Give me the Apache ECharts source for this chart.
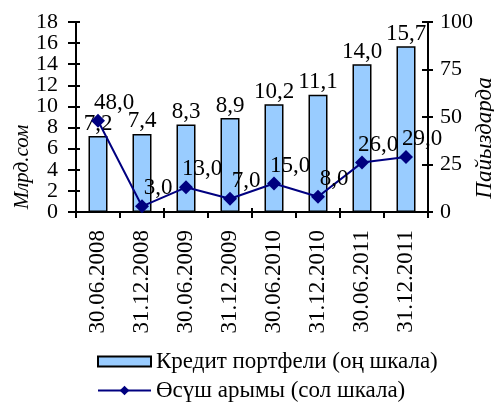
<!DOCTYPE html>
<html>
<head>
<meta charset="utf-8">
<script src="https://cdn.jsdelivr.net/npm/echarts@6/dist/echarts.min.js"></script>
<style>html,body{margin:0;padding:0;background:#fff}#c{width:494px;height:402px}</style>
</head>
<body>
<div id="c"></div>
<script>
var categories = ['30.06.2008','31.12.2008','30.06.2009','31.12.2009','30.06.2010','31.12.2010','30.06.2011','31.12.2011'];
var creditPortfolio = [7.2, 7.4, 8.3, 8.9, 10.2, 11.1, 14.0, 15.7];
var growthRate = [48.0, 3.0, 13.0, 7.0, 15.0, 8.0, 26.0, 29.0];
var barName = 'Кредит портфели (оң шкала)';
var lineName = 'Өсүш арымы (сол шкала)';
var leftAxisName = 'Млрд.сом';
var rightAxisName = 'Пайыздарда';

var FONT = '"Liberation Serif", "Times New Roman", serif';
var FS = 23;
var fmt = function (v) { return v.toFixed(1).replace('.', ','); };
var chart = echarts.init(document.getElementById('c'), null, {renderer: 'canvas'});
var lineStyle = {color: '#000', width: 2};
var legendText = {fontFamily: FONT, fontSize: FS, color: '#000'};
var valueLabel = function (margin, formatter) {
  var o = {margin: margin, fontSize: 22, color: '#000', fontFamily: FONT,
    showMinLabel: true, showMaxLabel: true, hideOverlap: false};
  if (formatter) o.formatter = formatter;
  return o;
};
chart.setOption({
  animation: false,
  grid: {left: 76, right: 66, top: 22, bottom: 190},
  textStyle: {fontFamily: FONT},
  legend: [{
    left: 92, top: 345, itemWidth: 53, itemHeight: 10, itemGap: 0,
    textStyle: legendText, data: [{name: barName, icon: 'rect'}]
  }, {
    left: 92, top: 374, itemWidth: 53, itemHeight: 12, itemGap: 0,
    lineStyle: {width: 2, color: '#000080'},
    textStyle: legendText, data: [{name: lineName}]
  }],
  xAxis: [{
    type: 'category', data: categories, boundaryGap: true,
    axisLine: {lineStyle: lineStyle},
    axisTick: {show: true, length: 6, lineStyle: lineStyle},
    axisLabel: {rotate: 90, margin: 18, fontSize: FS, color: '#000', fontFamily: FONT, interval: 0}
  }, {
    type: 'category', data: categories, position: 'bottom', boundaryGap: true,
    axisLine: {show: false},
    axisTick: {show: true, inside: true, length: 4, lineStyle: lineStyle},
    axisLabel: {show: false}
  }],
  yAxis: [{
    type: 'value', min: 0, max: 18, interval: 2, position: 'left',
    axisLine: {show: true, lineStyle: lineStyle},
    axisTick: {show: true, length: 8, lineStyle: lineStyle},
    splitLine: {show: false},
    axisLabel: valueLabel(18, function (v) { return v % 4 === 0 ? String(v) : ''; })
  }, {
    type: 'value', min: 0, max: 100, interval: 25, position: 'right',
    axisLine: {show: true, lineStyle: lineStyle},
    axisTick: {show: true, length: 5, lineStyle: lineStyle},
    splitLine: {show: false},
    axisLabel: valueLabel(12)
  }, {
    type: 'value', min: 0, max: 18, interval: 2, position: 'left',
    axisLine: {show: false}, axisTick: {show: true, inside: true, length: 4, lineStyle: lineStyle},
    splitLine: {show: false},
    axisLabel: valueLabel(18, function (v) { return v % 4 === 2 ? String(v) : ''; })
  }, {
    type: 'value', min: 0, max: 100, interval: 25, position: 'right',
    axisLine: {show: false}, axisTick: {show: true, inside: true, length: 6, lineStyle: lineStyle},
    splitLine: {show: false}, axisLabel: {show: false}
  }],
  graphic: [{
    type: 'text', x: 22, y: 167, rotation: Math.PI / 2,
    style: {text: leftAxisName, font: 'italic 21px ' + FONT, fill: '#000', textAlign: 'center', textVerticalAlign: 'middle'}
  }, {
    type: 'text', x: 485, y: 138, rotation: Math.PI / 2,
    style: {text: rightAxisName, font: 'italic ' + FS + 'px ' + FONT, fill: '#000', textAlign: 'center', textVerticalAlign: 'middle'}
  }],
  series: [{
    name: barName, type: 'bar', data: creditPortfolio, yAxisIndex: 0, barWidth: 19,
    itemStyle: {color: '#99CCFF', borderColor: '#000', borderWidth: 1.5},
    label: {show: true, position: 'top', distance: 1, fontSize: FS, color: '#000', fontFamily: FONT,
      formatter: function (p) { return fmt(p.value); }}
  }, {
    name: lineName, type: 'line', data: growthRate, yAxisIndex: 1, z: 5,
    symbol: 'diamond', symbolSize: 14,
    lineStyle: {color: '#000080', width: 2}, itemStyle: {color: '#000080'},
    label: {show: true, position: 'inside', offset: [16, -18], fontSize: FS, color: '#000', fontFamily: FONT,
      formatter: function (p) { return fmt(p.value); }}
  }]
});
</script>
</body>
</html>
